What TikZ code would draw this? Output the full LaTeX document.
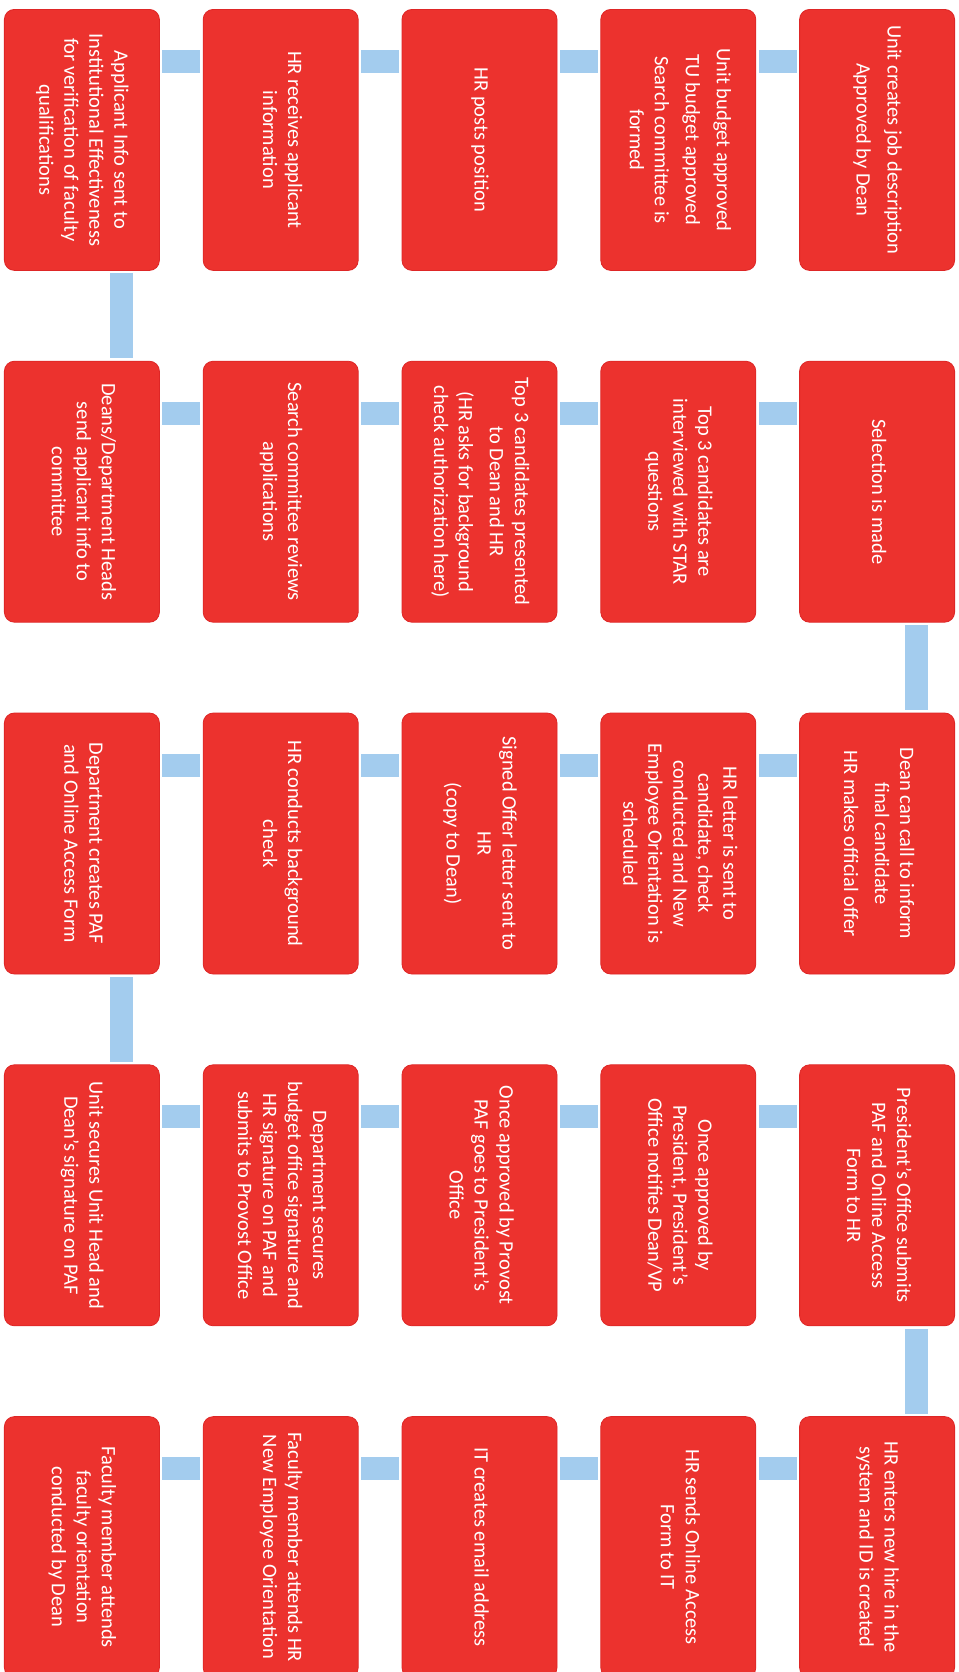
\documentclass[tikz,border=0pt]{standalone}
\usepackage{fontspec}
\setmainfont{Carlito}
\usepackage{graphicx}
\usetikzlibrary{matrix}

\definecolor{stepred}{RGB}{236,50,46}
\definecolor{stepedge}{RGB}{222,38,38}
\definecolor{linkblue}{RGB}{163,204,238}

\newcommand{\steptext}[1]{\rotatebox{-90}{\begin{tabular}{@{}c@{}}#1\end{tabular}}}
\newcommand{\pbreak}{\\[6pt]}

\begin{document}
\begin{tikzpicture}[
	box/.style={draw=stepedge, line width=0.8pt, fill=stepred, rounded corners=10pt, text=white,
		minimum width=155pt, minimum height=261pt, inner sep=2pt, anchor=center,
		font=\fontsize{20.5}{25}\selectfont},
	link/.style={draw=linkblue, line width=23pt, shorten >=3pt, shorten <=3pt}
]
\useasboundingbox (0pt,0pt) rectangle (958pt,-1672pt);
\matrix (m) [matrix of nodes, row sep=90pt, column sep=43pt, inner sep=0pt, outer sep=0pt,
	anchor=north west, nodes={box}] at (4pt,-9pt)
{
	\steptext{Applicant Info sent to\\Institutional Effectiveness\\for verification of faculty\\qualifications} &
	\steptext{HR receives applicant\\information} &
	\steptext{HR posts position} &
	\steptext{Unit budget approved\pbreak TU budget approved\pbreak Search committee is\\formed} &
	\steptext{Unit creates job description\pbreak Approved by Dean} \\
	\steptext{Deans/Department Heads\\send applicant info to\\committee} &
	\steptext{Search committee reviews\\applications} &
	\steptext{Top 3 candidates presented\\to Dean and HR\pbreak (HR asks for background\\check authorization here)} &
	\steptext{Top 3 candidates are\\interviewed with STAR\\questions} &
	\steptext{Selection is made} \\
	\steptext{Department creates PAF\\and Online Access Form} &
	\steptext{HR conducts background\\check} &
	\steptext{Signed Offer letter sent to\\HR\pbreak (copy to Dean)} &
	\steptext{HR letter is sent to\\candidate, check\\conducted and New\\Employee Orientation is\\scheduled} &
	\steptext{Dean can call to inform\\final candidate\pbreak HR makes official offer} \\
	\steptext{Unit secures Unit Head and\\Dean's signature on PAF} &
	\steptext{Department secures\\budget office signature and\\HR signature on PAF and\\submits to Provost Office} &
	\steptext{Once approved by Provost\\PAF goes to President's\\Office} &
	\steptext{Once approved by\\President, President's\\Office notifies Dean/VP} &
	\steptext{President's Office submits\\PAF and Online Access\\Form to HR} \\
	\steptext{Faculty member attends\\faculty orientation\\conducted by Dean} &
	\steptext{Faculty member attends HR\\New Employee Orientation} &
	\steptext{IT creates email address} &
	\steptext{HR sends Online Access\\Form to IT} &
	\steptext{HR enters new hire in the\\system and ID is created} \\
};
\path[link]
([yshift=-52pt]m-1-5.north west) edge ([yshift=-52pt]m-1-4.north east)
([yshift=-52pt]m-1-4.north west) edge ([yshift=-52pt]m-1-3.north east)
([yshift=-52pt]m-1-3.north west) edge ([yshift=-52pt]m-1-2.north east)
([yshift=-52pt]m-1-2.north west) edge ([yshift=-52pt]m-1-1.north east)
([xshift=117pt]m-1-1.south west) edge ([xshift=117pt]m-2-1.north west)
([yshift=-52pt]m-2-1.north east) edge ([yshift=-52pt]m-2-2.north west)
([yshift=-52pt]m-2-2.north east) edge ([yshift=-52pt]m-2-3.north west)
([yshift=-52pt]m-2-3.north east) edge ([yshift=-52pt]m-2-4.north west)
([yshift=-52pt]m-2-4.north east) edge ([yshift=-52pt]m-2-5.north west)
([xshift=117pt]m-2-5.south west) edge ([xshift=117pt]m-3-5.north west)
([yshift=-52pt]m-3-5.north west) edge ([yshift=-52pt]m-3-4.north east)
([yshift=-52pt]m-3-4.north west) edge ([yshift=-52pt]m-3-3.north east)
([yshift=-52pt]m-3-3.north west) edge ([yshift=-52pt]m-3-2.north east)
([yshift=-52pt]m-3-2.north west) edge ([yshift=-52pt]m-3-1.north east)
([xshift=117pt]m-3-1.south west) edge ([xshift=117pt]m-4-1.north west)
([yshift=-52pt]m-4-1.north east) edge ([yshift=-52pt]m-4-2.north west)
([yshift=-52pt]m-4-2.north east) edge ([yshift=-52pt]m-4-3.north west)
([yshift=-52pt]m-4-3.north east) edge ([yshift=-52pt]m-4-4.north west)
([yshift=-52pt]m-4-4.north east) edge ([yshift=-52pt]m-4-5.north west)
([xshift=117pt]m-4-5.south west) edge ([xshift=117pt]m-5-5.north west)
([yshift=-52pt]m-5-5.north west) edge ([yshift=-52pt]m-5-4.north east)
([yshift=-52pt]m-5-4.north west) edge ([yshift=-52pt]m-5-3.north east)
([yshift=-52pt]m-5-3.north west) edge ([yshift=-52pt]m-5-2.north east)
([yshift=-52pt]m-5-2.north west) edge ([yshift=-52pt]m-5-1.north east)
;
\end{tikzpicture}
\end{document}
